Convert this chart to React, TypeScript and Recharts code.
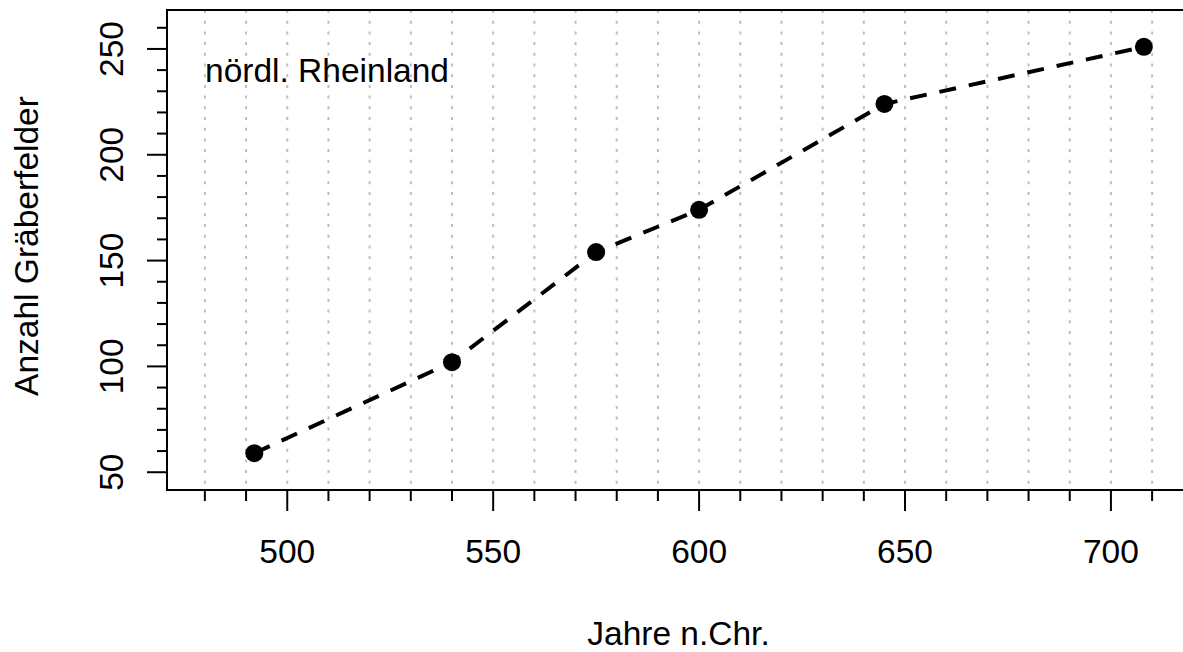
import { LineChart, Line, XAxis, YAxis, CartesianGrid, ReferenceArea } from 'recharts';

const years = [492, 540, 575, 600, 645, 708];
const counts = [59, 102, 154, 174, 224, 251];

const xTicks = [480, 490, 500, 510, 520, 530, 540, 550, 560, 570, 580, 590, 600, 610, 620, 630, 640, 650, 660, 670, 680, 690, 700, 710];
const xLabels = [500, 550, 600, 650, 700];
const yTicks = [50, 60, 70, 80, 90, 100, 110, 120, 130, 140, 150, 160, 170, 180, 190, 200, 210, 220, 230, 240, 250, 260];
const yLabels = [50, 100, 150, 200, 250];

const xDomain = [470.8, 719.2];
const yDomain = [41.6, 268.4];

const FONT = '"Liberation Sans", Arial, sans-serif';

const data = years.map((y, i) => ({ year: y, n: counts[i] }));

const XTick = ({ x, y, payload }: any) => {
    const major = xLabels.includes(payload.value);
    return (
        <g>
            <line x1={x} x2={x} y1={y} y2={y + (major ? 21 : 11)} stroke="#000" strokeWidth={2} />
            {major && (
                <text x={x} y={y + 73} textAnchor="middle" fontSize={33.5} fontFamily={FONT} fill="#000">
                    {payload.value}
                </text>
            )}
        </g>
    );
};

const YTick = ({ x, y, payload }: any) => {
    const major = yLabels.includes(payload.value);
    return (
        <g>
            <line x1={x - (major ? 20 : 10)} x2={x} y1={y} y2={y} stroke="#000" strokeWidth={2} />
            {major && (
                <text
                    x={x - 44}
                    y={y}
                    transform={`rotate(-90, ${x - 44}, ${y})`}
                    textAnchor="middle"
                    fontSize={33.5}
                    fontFamily={FONT}
                    fill="#000"
                >
                    {payload.value}
                </text>
            )}
        </g>
    );
};

export default function App() {
    return (
        <div style={{ position: 'absolute', left: 0, top: 0, width: 1183, height: 652, overflow: 'hidden', background: '#fff' }}>
            <LineChart width={1195} height={652} data={data} margin={{ top: 10, right: 5, bottom: 0, left: 0 }}>
                <CartesianGrid
                    horizontal={false}
                    vertical={true}
                    stroke="#bebebe"
                    strokeWidth={2}
                    strokeDasharray="3 7.7"
                />
                <XAxis
                    dataKey="year"
                    type="number"
                    domain={xDomain}
                    ticks={xTicks}
                    interval={0}
                    allowDataOverflow
                    height={162}
                    tickSize={0}
                    tickMargin={0}
                    tickLine={false}
                    axisLine={{ stroke: '#000', strokeWidth: 2 }}
                    tick={<XTick />}
                    label={({ viewBox }: any) => (
                        <text
                            x={viewBox.x + viewBox.width / 2}
                            y={viewBox.y + 155}
                            textAnchor="middle"
                            fontSize={33.5}
                            fontFamily={FONT}
                            fill="#000"
                        >
                            Jahre n.Chr.
                        </text>
                    )}
                />
                <YAxis
                    type="number"
                    domain={yDomain}
                    ticks={yTicks}
                    interval={0}
                    allowDataOverflow
                    width={167}
                    tickSize={0}
                    tickMargin={0}
                    tickLine={false}
                    axisLine={{ stroke: '#000', strokeWidth: 2 }}
                    tick={<YTick />}
                    label={({ viewBox }: any) => {
                        const cx = viewBox.x + 38;
                        const cy = viewBox.y + viewBox.height / 2 - 4;
                        return (
                            <text
                                x={cx}
                                y={cy}
                                transform={`rotate(-90, ${cx}, ${cy})`}
                                textAnchor="middle"
                                fontSize={33.5}
                                fontFamily={FONT}
                                fill="#000"
                            >
                                Anzahl Gräberfelder
                            </text>
                        );
                    }}
                />
                <ReferenceArea
                    x1={xDomain[0]}
                    x2={xDomain[1]}
                    y1={yDomain[0]}
                    y2={yDomain[1]}
                    fill="none"
                    fillOpacity={0}
                    stroke="#000"
                    strokeWidth={2}
                    label={({ viewBox }: any) => (
                        <text
                            x={viewBox.x + 38}
                            y={viewBox.y + 72}
                            fontSize={33.5}
                            fontFamily={FONT}
                            fill="#000"
                        >
                            nördl. Rheinland
                        </text>
                    )}
                />
                <Line
                    type="linear"
                    dataKey="n"
                    stroke="#000"
                    strokeWidth={4}
                    strokeDasharray="17 13"
                    dot={{ r: 9, fill: '#000', stroke: 'none', strokeWidth: 0 }}
                    activeDot={false}
                    isAnimationActive={false}
                />
            </LineChart>
        </div>
    );
}
